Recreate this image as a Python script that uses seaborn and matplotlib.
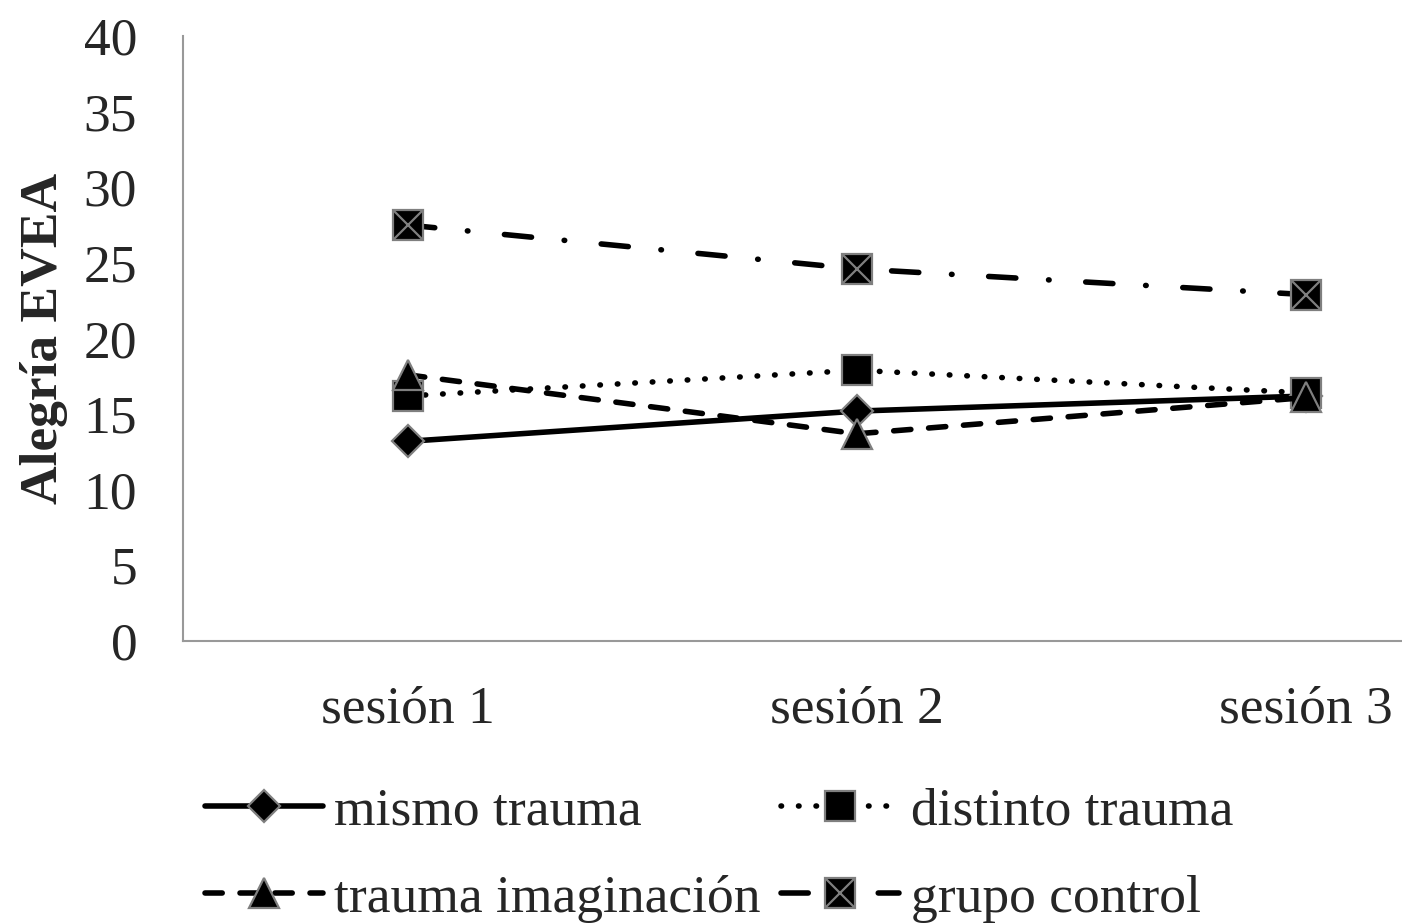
import numpy as np
import pandas as pd
import matplotlib.pyplot as plt
import seaborn as sns

# Datos (Alegría EVEA por sesión)
sesiones = ['sesión 1', 'sesión 2', 'sesión 3']
grupos = ['mismo trauma', 'distinto trauma', 'trauma imaginación', 'grupo control']
mismo_trauma = [13.2, 15.2, 16.2]
distinto_trauma = [16.2, 17.9, 16.4]
trauma_imaginacion = [17.6, 13.7, 16.1]
grupo_control = [27.5, 24.6, 22.9]

df = pd.DataFrame({
    'sesion': sesiones * 4,
    'grupo': np.repeat(grupos, 3),
    'alegria': mismo_trauma + distinto_trauma + trauma_imaginacion + grupo_control,
})

sns.set_theme(style='white')
plt.rcParams['font.family'] = ['Liberation Serif', 'DejaVu Serif']
fs = 38.5

fig = plt.figure(figsize=(14.02, 9.24), dpi=100)
ax = fig.add_axes([183 / 1402, 1 - 641 / 924, 1348 / 1402, 605 / 924])

markers = {'mismo trauma': 'D', 'distinto trauma': 's',
           'trauma imaginación': '^', 'grupo control': 's'}
dashes = {'mismo trauma': '', 'distinto trauma': (0.1, 3.05),
          'trauma imaginación': (3.1, 3.2), 'grupo control': (4.9, 5.9, 0.1, 6.6)}

sns.lineplot(data=df, x='sesion', y='alegria', hue='grupo', style='grupo',
             hue_order=grupos, style_order=grupos,
             palette=['black'] * 4, markers=markers, dashes=dashes,
             linewidth=4, markersize=21, markeredgecolor='#7f7f7f',
             markeredgewidth=1.6, dash_capstyle='round', legend=False, ax=ax)

lines = ax.get_lines()[:4]
lines[0].set_markersize(16)

# aspa gris dentro del cuadrado del grupo control
cruz, = ax.plot(sesiones, grupo_control, linestyle='none', marker='x',
                markersize=20, markeredgecolor='#7f7f7f', markeredgewidth=1.6)

ax.set_xlim(-0.5, 2.5)
ax.set_ylim(0, 40)
ax.set_yticks(range(0, 41, 5))
ax.set_xlabel('')
ax.set_ylabel('Alegría EVEA', fontsize=fs, fontweight='bold')
ax.yaxis.set_label_coords(-0.0853, 0.5)
ax.tick_params(axis='both', length=0, labelsize=fs)
ax.tick_params(axis='y', pad=33)
ax.tick_params(axis='x', pad=32)

for s in ['top', 'right']:
    ax.spines[s].set_visible(False)
for s in ['left', 'bottom']:
    ax.spines[s].set_color('#999999')
    ax.spines[s].set_linewidth(1.5)

handles = [lines[0], lines[2], lines[1], (lines[3], cruz)]
labels = [grupos[0], grupos[2], grupos[1], grupos[3]]
fig.legend(handles, labels, loc='upper left', bbox_to_anchor=(205 / 1402, 0.148),
           ncol=2, frameon=False, fontsize=fs, handlelength=2.2,
           handletextpad=0.22, columnspacing=0.38, labelspacing=0.72,
           borderpad=0, borderaxespad=0, numpoints=1)

fig.savefig('out.png', dpi=100)
